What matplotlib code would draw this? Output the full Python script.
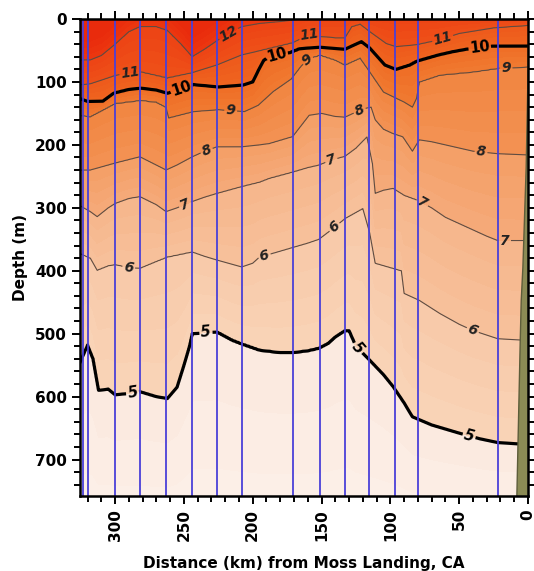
import numpy as np
import matplotlib
matplotlib.use("Agg")
import matplotlib.pyplot as plt
from matplotlib.ticker import MultipleLocator

# ---------------- data ----------------
# isotherm depths (m) along the section, distance in km from Moss Landing
iso12_km = [326, 318, 310, 300, 290, 282, 270, 262, 252, 244, 235, 225, 215, 208, 195, 180, 168, 160, 0]
iso12_m = [65, 65, 58, 40, 20, 12, 12, 18, 40, 60, 48, 33, 20, 12, 7, 4, 1, -5, -5]

iso11_km = [326, 318, 300, 290, 282, 262, 245, 226, 208, 188, 171, 159, 151, 140, 133, 128, 122, 115,
            103, 96, 81, 64, 50, 25, 0]
iso11_m = [105, 103, 90, 86, 84, 94, 86, 73, 57, 47, 38, 25, 28, 30, 30, 12, 8, 20,
           39, 44, 41, 33, 23, 14, 10]

iso10_km = [326, 320, 309, 301, 290, 281, 270, 262, 250, 243, 225, 207, 200, 196, 192, 185, 173, 166,
            151, 133, 125, 121, 115, 104, 96, 86, 81, 65, 55, 45, 26, 0]
iso10_m = [126, 131, 131, 118, 112, 110, 113, 118, 108, 104, 108, 105, 100, 82, 65, 57, 53, 47,
           45, 48, 40, 36, 46, 73, 80, 73, 67, 57, 52, 48, 43, 43]

iso9_km = [326, 318, 300, 281, 270, 263, 261, 243, 225, 206, 196, 185, 172, 165, 160, 151, 140, 133,
           122, 115, 105, 90, 84, 81, 79, 64, 40, 21, 0]
iso9_m = [153, 155, 134, 129, 132, 140, 157, 147, 144, 147, 137, 115, 95, 75, 63, 57, 65, 73,
          62, 84, 116, 132, 140, 126, 100, 89, 84, 78, 76]

iso8_km = [326, 318, 300, 282, 263, 255, 244, 235, 226, 208, 195, 188, 171, 165, 159, 150, 140, 133,
           125, 118, 114, 111, 105, 98, 91, 84, 79, 70, 60, 50, 40, 22, 0]
iso8_m = [240, 240, 229, 219, 240, 232, 219, 210, 203, 203, 200, 198, 187, 170, 153, 150, 155, 156,
          148, 142, 140, 160, 175, 182, 187, 210, 192, 195, 200, 205, 210, 214, 216]

iso7_km = [326, 318, 313, 305, 300, 290, 282, 270, 263, 255, 244, 235, 226, 208, 195, 188, 171, 160,
           152, 143, 133, 125, 117, 113, 111, 105, 98, 90, 80, 70, 60, 50, 40, 30, 22, 10, 0]
iso7_m = [296, 306, 314, 300, 293, 285, 282, 295, 306, 300, 290, 283, 277, 266, 259, 253, 243, 236,
          232, 224, 218, 205, 187, 230, 277, 272, 269, 280, 288, 300, 315, 325, 335, 345, 352, 352, 352]

iso6_km = [326, 318, 313, 305, 300, 290, 282, 270, 262, 244, 235, 226, 208, 200, 195, 185, 171, 160,
           152, 143, 133, 120, 115, 111, 100, 92, 90, 79, 64, 50, 40, 22, 6, 0]
iso6_m = [372, 380, 399, 392, 390, 395, 396, 385, 378, 370, 377, 383, 394, 388, 378, 372, 363, 356,
          350, 335, 317, 301, 340, 388, 395, 400, 436, 447, 468, 485, 495, 508, 510, 510]

iso5_km = [326, 320, 316, 312, 305, 300, 290, 282, 270, 262, 255, 250, 246, 244, 235, 226, 215, 208,
           195, 180, 171, 160, 152, 145, 140, 133, 130, 125, 115, 105, 98, 90, 84, 70, 50, 35, 22, 8, 0]
iso5_m = [548, 518, 540, 590, 588, 597, 595, 592, 600, 603, 585, 550, 520, 500, 498, 497, 510, 516,
          526, 530, 530, 527, 523, 515, 505, 495, 495, 520, 542, 565, 584, 610, 632, 645, 658, 667, 673, 675, 675]

deep_temp = 4.3          # temperature near the bottom of the section
stations_km = [323.0, 319.4, 300.0, 282.0, 263.3, 244.4, 226.0, 208.0, 171.0, 151.4,
               133.3, 115.2, 96.4, 79.7, 21.7]
shelf_km = [0.0, 0.5, 1.7, 4.1, 5.3, 6.0, 8.5]
shelf_m = [40, 100, 235, 394, 447, 509, 760]

# ---------------- build the section field from the isotherms ----------------
iso = {12: (iso12_km, iso12_m), 11: (iso11_km, iso11_m), 10: (iso10_km, iso10_m),
       9: (iso9_km, iso9_m), 8: (iso8_km, iso8_m), 7: (iso7_km, iso7_m),
       6: (iso6_km, iso6_m), 5: (iso5_km, iso5_m)}
order = [12, 11, 10, 9, 8, 7, 6, 5]
x = np.linspace(0, 326, 653)
z = np.linspace(0, 760, 381)
dep = {lev: np.interp(x, np.array(k)[::-1], np.array(m)[::-1]) for lev, (k, m) in iso.items()}
T = np.empty((z.size, x.size))
for j in range(x.size):
    zp = [dep[12][j] - 40] + [dep[l][j] for l in order] + [800.0]
    zp = np.maximum.accumulate(np.array(zp) + np.arange(len(zp)) * 1e-3)
    tp = [13.0] + [float(l) for l in order] + [deep_temp]
    T[:, j] = np.interp(z, zp, tp)

# ---------------- colours: one colour pair (cold edge, warm edge) per 1-degree band ----------------
band_lo = [4, 5, 6, 7, 8, 9, 10, 11, 12]
band_cold = [(253, 243, 237), (249, 212, 184), (247, 193, 156), (245, 171, 123), (243, 147, 84),
             (240, 123, 49), (239, 101, 31), (238, 81, 24), (236, 56, 16)]
band_warm = [(251, 233, 222), (248, 201, 168), (246, 181, 139), (244, 158, 101), (241, 133, 64),
             (239, 109, 37), (238, 89, 27), (237, 67, 20), (232, 36, 10)]
flev = np.arange(4.0, 13.51, 0.25)
fcols = []
for a, b in zip(flev[:-1], flev[1:]):
    mid = 0.5 * (a + b)
    i = min(int(np.floor(mid)) - 4, len(band_lo) - 1)
    f = np.clip(mid - band_lo[i], 0, 1) if i < len(band_lo) - 1 else np.clip((mid - 12) / 1.3, 0, 1)
    c = [(band_cold[i][k] + f * (band_warm[i][k] - band_cold[i][k])) / 255 for k in range(3)]
    fcols.append(tuple(c))

# ---------------- figure ----------------
plt.rcParams["font.family"] = ["DejaVu Sans"]
fig = plt.figure(figsize=(5.34, 5.71), dpi=100)
ax = fig.add_axes([0.1498, 0.1313, 0.8390, 0.8354])

ax.contourf(x, z, T, levels=flev, colors=fcols, zorder=1)
thin = ax.contour(x, z, T, levels=[6, 7, 8, 9, 11, 12], colors="#5e4c42", linewidths=0.8, zorder=2)
thick = ax.contour(x, z, T, levels=[5, 10], colors="black", linewidths=2.3, zorder=2)

thin_lab = [(217, 25), (289, 86), (159, 25), (62, 31), (216, 145), (160, 65), (16, 78),
            (234, 206), (122, 147), (34, 208), (248, 301), (143, 224), (69, 261), (17, 351),
            (290, 394), (192, 372), (139, 335), (40, 494)]
thick_lab = [(252, 110), (182, 60), (35, 47), (289, 571), (234, 500), (125, 526), (43, 664)]
t1 = ax.clabel(thin, manual=thin_lab, fmt="%d", fontsize=10, inline=True, inline_spacing=2)
t2 = ax.clabel(thick, manual=thick_lab, fmt="%d", fontsize=10.5, inline=True, inline_spacing=2)
for t in t1:
    t.set_fontweight("bold"); t.set_fontstyle("italic"); t.set_color("#222222")
for t in t2:
    t.set_fontweight("bold"); t.set_color("black")
    if t.get_text() == "5":
        t.set_fontstyle("italic")

ax.vlines(stations_km, 0, 760, colors="#4a40d8", linewidths=1.3, zorder=4)
ax.fill_betweenx(shelf_m, shelf_km, -1, facecolor="#8b8b55", edgecolor="#5d5d3a", linewidth=1.0, zorder=5)

ax.set_xlim(325.5, 0)
ax.set_ylim(758, 0)
ax.xaxis.set_major_locator(MultipleLocator(50))
ax.xaxis.set_minor_locator(MultipleLocator(10))
ax.yaxis.set_major_locator(MultipleLocator(100))
ax.yaxis.set_minor_locator(MultipleLocator(20))
ax.tick_params(which="both", direction="out", top=True, right=True, width=1.4, labelsize=11)
ax.tick_params(which="major", length=6)
ax.tick_params(which="minor", length=4)
for lab in ax.get_xticklabels() + ax.get_yticklabels():
    lab.set_fontweight("bold")
plt.setp(ax.get_xticklabels(), rotation=90)
for sp in ax.spines.values():
    sp.set_linewidth(1.8)
    sp.set_zorder(6)

ax.set_xlabel("Distance (km) from Moss Landing, CA", fontsize=11, fontweight="bold", labelpad=11)
ax.set_ylabel("Depth (m)", fontsize=11, fontweight="bold", labelpad=5)

fig.savefig("out.png", dpi=100)
